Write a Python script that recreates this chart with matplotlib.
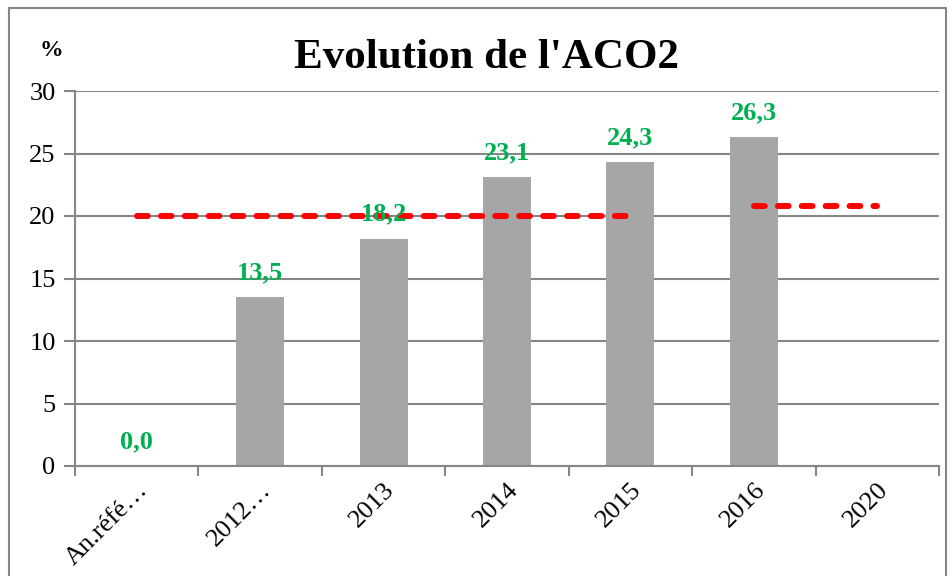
import numpy as np
import matplotlib.pyplot as plt

categories = ['An.réfé…', '2012…', '2013', '2014', '2015', '2016', '2020']
values = [0.0, 13.5, 18.2, 23.1, 24.3, 26.3, np.nan]
labels = ['0,0', '13,5', '18,2', '23,1', '24,3', '26,3']
target_a = [20, 20, 20, 20, 20, np.nan, np.nan]
target_b = [np.nan, np.nan, np.nan, np.nan, np.nan, 20.8, 20.8]

plt.rcParams['font.family'] = ['Liberation Serif', 'DejaVu Serif']

fig = plt.figure(figsize=(9.52, 5.76), dpi=100)
ax = fig.add_axes([75 / 952, 1 - 466 / 576, (939 - 75) / 952, (466 - 91) / 576])

x = np.arange(len(categories))
ax.bar(x, values, width=0.39, color='#a6a6a6', zorder=2)
dash = (0, (1.8, 2.2))
ax.plot(x, target_a, color='#ff0000', lw=4.3, ls=dash, zorder=3, dash_capstyle='round')
ax.plot(x, target_b, color='#ff0000', lw=4.3, ls=dash, zorder=3, dash_capstyle='round')

for i, t in enumerate(labels):
    ax.text(x[i], values[i] + 1.45, t, ha='center', va='baseline', color='#00b050',
            fontsize=19, fontweight='bold', zorder=4)

ax.set_xlim(-0.5, len(categories) - 0.5)
ax.set_ylim(0, 30)
ax.set_yticks(range(0, 31, 5))
ax.yaxis.grid(True, color='#868686', lw=1.5, zorder=0)
ax.set_xticks(x)
ax.set_xticklabels(categories, rotation=45, ha='right', rotation_mode='anchor', fontsize=19)
ax.set_xticks(np.arange(-0.5, len(categories), 1), minor=True)
ax.tick_params(axis='x', which='major', length=0, pad=9)
ax.tick_params(axis='x', which='minor', length=7, color='#868686', width=1.5)
ax.tick_params(axis='y', length=8, color='#868686', width=1.5, labelsize=19, pad=6)
for s in ['top', 'right']:
    ax.spines[s].set_visible(False)
for s in ['left', 'bottom']:
    ax.spines[s].set_color('#868686')
    ax.spines[s].set_linewidth(1.5)

fig.text(487 / 952, 1 - 68 / 576, "Evolution de l'ACO2", ha='center', va='baseline',
         fontsize=31, fontweight='bold')
fig.text(51 / 952, 1 - 50 / 576, '%', ha='center', va='center', fontsize=17, fontweight='bold')

border = plt.Rectangle((9 / 952, -0.1), (946 - 9) / 952, 1.1 - 8 / 576, transform=fig.transFigure,
                       fill=False, edgecolor='#868686', lw=1.5)
fig.patches.append(border)

fig.savefig('out.png', dpi=100)
